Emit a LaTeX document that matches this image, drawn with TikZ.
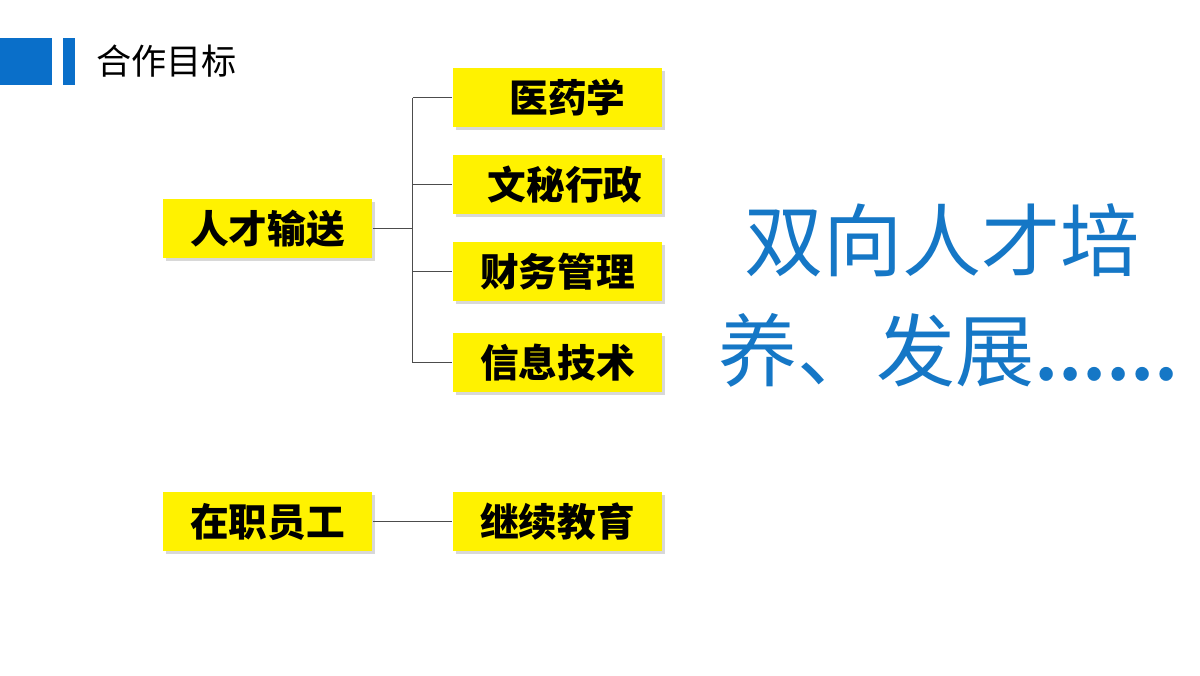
\documentclass[tikz,border=0pt]{standalone}
\usepackage{fontspec}
\setmainfont{Noto Sans CJK SC}
\usetikzlibrary{positioning,shadows}
\definecolor{hdrblue}{HTML}{0A6FC9}
\definecolor{txtblue}{HTML}{1577C6}
\tikzset{
    ybox/.style={fill=yellow, minimum width=2.09cm, minimum height=0.59cm, inner sep=0pt,
        font=\fontsize{11pt}{12pt}\selectfont\bfseries, drop shadow={shadow xshift=0.03cm, shadow yshift=-0.03cm, opacity=0.3}},
    link/.style={draw=black!70, line width=0.4pt},
    bigtxt/.style={anchor=west, text=txtblue, font=\fontsize{22.5pt}{26pt}\selectfont}
}
\begin{document}
\begin{tikzpicture}[x=0.01cm, y=-0.01cm]
    \useasboundingbox[fill=white] (0,0) rectangle (1200,675);
    % header
    \fill[hdrblue] (0,38) rectangle (52,85);
    \fill[hdrblue] (63,38) rectangle (75,85);
    \node[anchor=west, font=\fontsize{10pt}{11pt}\selectfont] (title) at (84,61) {合作目标};
    % boxes
    \node[ybox] (rc) at (267.5,228.5) {人才输送};
    \node[ybox] (zz) at (267.5,521.5) {在职员工};
    \node[ybox] (yy) at (557.5,97.5) {\hspace{0.2cm}医药学};
    \node[ybox] (wm) at (557.5,184.5) {\hspace{0.15cm}文秘行政};
    \node[ybox] (cw) at (557.5,271.5) {财务管理};
    \node[ybox] (xx) at (557.5,362.5) {信息技术};
    \node[ybox] (jx) at (557.5,521.5) {继续教育};
    % connectors
    \coordinate[right=0.4cm of rc.east] (fork);
    \draw[link] (rc.east) -- (fork);
    \draw[link] (fork |- yy.west) -- (fork |- xx.west);
    \foreach \n in {yy,wm,cw,xx}
        \draw[link] (fork |- \n.west) -- (\n.west);
    \draw[link] (zz.east) -- (jx.west);
    % big text
    \node[bigtxt] (big1) at (732,240) {双向人才培};
    \node[bigtxt] (big2) at (706,350) {养、发展{\fontsize{18pt}{20pt}\selectfont\bfseries ……}};
\end{tikzpicture}
\end{document}
